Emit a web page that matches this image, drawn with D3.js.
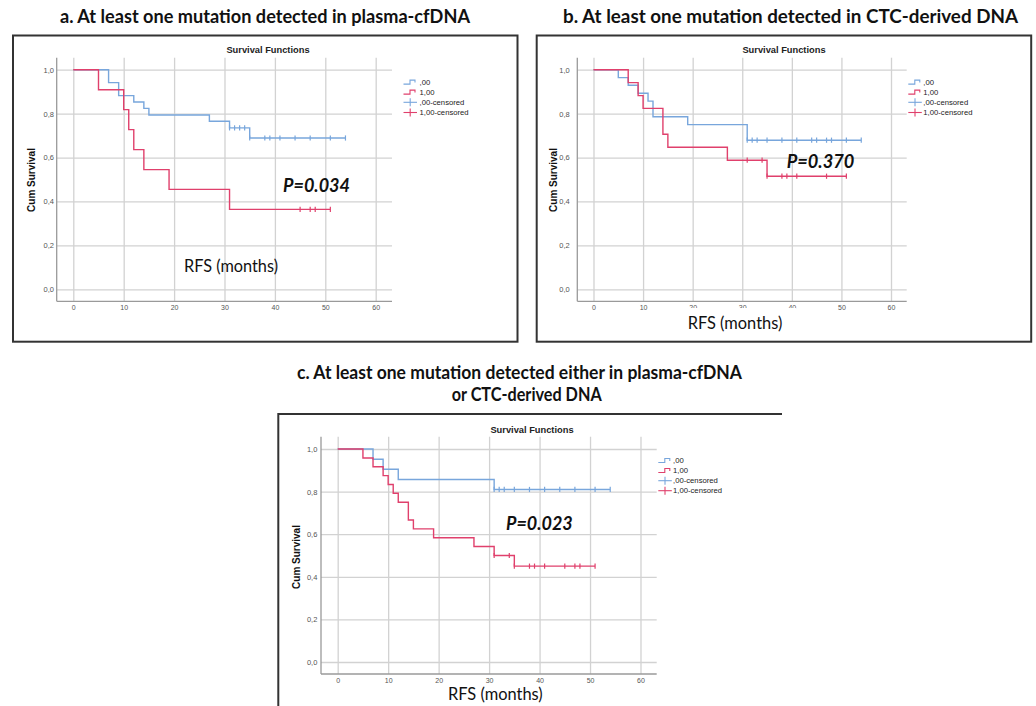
<!DOCTYPE html>
<html><head><meta charset="utf-8">
<script src="https://cdn.jsdelivr.net/npm/d3@7"></script>
<style>body{margin:0;background:#fff} svg{display:block}</style>
</head><body>
<svg id="chart" width="1036" height="706"></svg>
<script>
// ---------- data ----------
const xTicks = [0, 10, 20, 30, 40, 50, 60];
const yTicks = [0, 0.2, 0.4, 0.6, 0.8, 1.0];
const legendLabels = [",00", "1,00", ",00-censored", "1,00-censored"];
const plotTitle = "Survival Functions";
const yAxisTitle = "Cum Survival";
const xAxisTitle = "RFS (months)";

const titleA = ["a. At least one mutation detected in plasma-cfDNA"];
const titleB = ["b. At least one mutation detected in CTC-derived DNA"];
const titleC = ["c. At least one mutation detected either in plasma-cfDNA", "or CTC-derived DNA"];
const pValues = ["P=0.034", "P=0.370", "P=0.023"];

// panel a
const aBlueEventTimes = [7, 9, 12, 14, 15, 27, 31, 35];
const aBlueSurvival   = [0.941, 0.882, 0.853, 0.824, 0.794, 0.765, 0.735, 0.689];
const aBlueEnd = 54;
const aBlueCensored = [31, 32, 33, 34, 35, 38, 39, 41, 44, 47, 51, 54];
const aRedEventTimes = [5, 10, 11, 12, 14, 19, 31];
const aRedSurvival   = [0.909, 0.818, 0.727, 0.636, 0.545, 0.455, 0.364];
const aRedEnd = 51;
const aRedCensored = [45, 47, 48, 51];

// panel b
const bBlueEventTimes = [5, 7, 9, 11, 12, 19, 31];
const bBlueSurvival   = [0.964, 0.929, 0.893, 0.857, 0.786, 0.750, 0.679];
const bBlueEnd = 54;
const bBlueCensored = [31, 32, 33, 35, 38, 41, 44, 45, 47, 48, 51, 54];
const bRedEventTimes = [7, 9, 10, 14, 15, 27, 35];
const bRedSurvival   = [0.941, 0.882, 0.824, 0.706, 0.647, 0.588, 0.515];
const bRedEnd = 51;
const bRedCensored = [31, 34, 35, 38, 39, 41, 47, 51];

// panel c
const cBlueEventTimes = [7, 9, 12, 31];
const cBlueSurvival   = [0.952, 0.905, 0.857, 0.810];
const cBlueEnd = 54;
const cBlueCensored = [31, 32, 33, 35, 38, 41, 44, 47, 51, 54];
const cRedEventTimes = [5, 7, 9, 10, 11, 12, 14, 15, 19, 27, 31, 35];
const cRedSurvival   = [0.958, 0.917, 0.875, 0.833, 0.792, 0.750, 0.667, 0.625, 0.583, 0.542, 0.500, 0.450];
const cRedEnd = 51;
const cRedCensored = [31, 34, 35, 38, 39, 41, 45, 47, 48, 51];

// ---------- style ----------
const BLUE = "#78a6dc";
const RED = "#e0406c";
const GRID = "#d2d2d2";
const AXIS = "#9a9a9a";
const SANS = "'Liberation Sans', Arial, sans-serif";
const HUM = "Lato, 'Open Sans', sans-serif";

const svg = d3.select("#chart");
svg.append("rect").attr("width", 1036).attr("height", 706).attr("fill", "#fff");

function fmtComma(v) { return d3.format(".1f")(v).replace(".", ","); }

function stepPoints(times, surv, end) {
  const pts = [[0, 1]];
  let s = 1;
  times.forEach((t, i) => { pts.push([t, s]); s = surv[i]; pts.push([t, s]); });
  pts.push([end, s]);
  return pts;
}
function survAt(times, surv, t) {
  let s = 1;
  times.forEach((tt, i) => { if (tt <= t) s = surv[i]; });
  return s;
}

function drawPanel(L, series, pText) {
  const g = svg.append("g");
  const x = d3.scaleLinear().domain([0, 60]).range([L.x0, L.x1]);
  const y = d3.scaleLinear().domain([0, 1]).range([L.yBot, L.yTop]);

  // vertical grid + x tick labels
  const xa = g.append("g").attr("transform", `translate(0,${L.axisY})`)
    .call(d3.axisBottom(x).tickValues(xTicks).tickSize(-(L.axisY - L.plotTop)).tickPadding(L.xPad).tickFormat(d3.format("d")));
  xa.select(".domain").remove();
  xa.selectAll(".tick line").attr("stroke", GRID).attr("stroke-width", 1.3);
  xa.selectAll(".tick text").attr("fill", "#555").attr("font-size", 7).attr("font-family", SANS);

  // horizontal grid + y tick labels
  const ya = g.append("g").attr("transform", `translate(${L.axisX},0)`)
    .call(d3.axisLeft(y).tickValues(yTicks).tickSize(-(L.gridRight - L.axisX)).tickPadding(L.yPad).tickFormat(fmtComma));
  ya.select(".domain").remove();
  ya.selectAll(".tick line").attr("stroke", GRID).attr("stroke-width", 1.3);
  ya.selectAll(".tick text").attr("fill", "#555").attr("font-size", 7.5).attr("font-family", SANS);

  // axis lines
  g.append("line").attr("x1", L.axisX).attr("x2", L.axisX).attr("y1", L.plotTop).attr("y2", L.axisY)
    .attr("stroke", AXIS).attr("stroke-width", 1.3);
  g.append("line").attr("x1", L.axisX).attr("x2", L.gridRight).attr("y1", L.axisY).attr("y2", L.axisY)
    .attr("stroke", AXIS).attr("stroke-width", 1.3);

  // curves
  const line = d3.line().x(d => x(d[0])).y(d => y(d[1]));
  series.forEach(s => {
    g.append("path").attr("d", line(stepPoints(s.times, s.surv, s.end)))
      .attr("fill", "none").attr("stroke", s.color).attr("stroke-width", 1.4);
    g.selectAll(null).data(s.censored).enter().append("line")
      .attr("x1", d => x(d)).attr("x2", d => x(d))
      .attr("y1", d => y(survAt(s.times, s.surv, d)) - 2.6)
      .attr("y2", d => y(survAt(s.times, s.surv, d)) + 2.6)
      .attr("stroke", s.color).attr("stroke-width", 1.2);
  });

  // Survival Functions
  g.append("text").attr("x", L.sfX).attr("y", L.sfY).attr("text-anchor", "middle")
    .attr("font-family", SANS).attr("font-weight", "bold").attr("font-size", 9.3).attr("fill", "#222")
    .text(plotTitle);
  // Cum Survival
  g.append("text").attr("transform", `translate(${L.cumX},${L.cumY}) rotate(-90)`)
    .attr("text-anchor", "middle").attr("dominant-baseline", "central")
    .attr("font-family", SANS).attr("font-weight", "bold").attr("font-size", 10).attr("fill", "#111")
    .text(yAxisTitle);

  // legend
  const colors = [BLUE, RED, BLUE, RED];
  legendLabels.forEach((lab, i) => {
    const ly = L.legY[i], lx = L.legX;
    if (i < 2) {
      g.append("path").attr("d", `M${lx},${ly + 1.8}H${lx + 6.5}V${ly - 2.2}H${lx + 11.5}V${ly + 0.3}`)
        .attr("fill", "none").attr("stroke", colors[i]).attr("stroke-width", 1.1);
    } else {
      g.append("line").attr("x1", lx).attr("x2", lx + 13.5).attr("y1", ly).attr("y2", ly)
        .attr("stroke", colors[i]).attr("stroke-width", 1.1);
      g.append("line").attr("x1", lx + 6.7).attr("x2", lx + 6.7).attr("y1", ly - 4).attr("y2", ly + 4)
        .attr("stroke", colors[i]).attr("stroke-width", 1.1);
    }
    g.append("text").attr("x", L.legTextX).attr("y", ly).attr("dominant-baseline", "central")
      .attr("font-family", SANS).attr("font-size", 7.7).attr("fill", "#222").text(lab);
  });

  // RFS label
  if (L.rfsMask) {
    g.append("rect").attr("x", L.rfsX - 4).attr("y", L.rfsMaskY).attr("width", L.rfsW + 18).attr("height", 26).attr("fill", "#fff");
  }
  g.append("text").attr("x", L.rfsX).attr("y", L.rfsBase)
    .attr("font-family", HUM).attr("font-size", 16.5).attr("fill", "#111")
    .attr("textLength", L.rfsW).attr("lengthAdjust", "spacingAndGlyphs").text(xAxisTitle);

  // P value
  g.append("text").attr("x", L.pX).attr("y", L.pBase)
    .attr("font-family", HUM).attr("font-weight", "bold").attr("font-style", "italic").attr("font-size", 19.5).attr("fill", "#111")
    .attr("textLength", L.pW).attr("lengthAdjust", "spacingAndGlyphs").text(pText);
}

// ---------- layout ----------
const layoutA = { x0: 73.3, x1: 375.7, yTop: 69.7, yBot: 289.3, axisX: 56.7, axisY: 301.3, plotTop: 57.7, gridRight: 392,
  xPad: 4, yPad: 2.7, sfX: 268, sfY: 53.3, cumX: 31.7, cumY: 180, legX: 403.5, legTextX: 419.5,
  legY: [82.3, 92.3, 102.3, 112.5], pX: 283, pBase: 192.3, pW: 67, rfsX: 184, rfsBase: 271.7, rfsW: 94 };
const layoutB = { x0: 593.5, x1: 891, yTop: 69.7, yBot: 289.3, axisX: 577.3, axisY: 301.3, plotTop: 57.7, gridRight: 906.7,
  xPad: 4, yPad: 7.6, sfX: 784, sfY: 53.3, cumX: 553.3, cumY: 180, legX: 908.3, legTextX: 923.3,
  legY: [82.3, 92.3, 102.3, 112.5], pX: 786.7, pBase: 168.3, pW: 67.6, rfsX: 687.7, rfsBase: 329.3, rfsW: 94.6,
  rfsMask: true, rfsMaskY: 308 };
const layoutC = { x0: 337.7, x1: 640.5, yTop: 449, yBot: 662, axisX: 321, axisY: 674, plotTop: 436.7, gridRight: 656.7,
  xPad: 4.5, yPad: 3.7, sfX: 532, sfY: 433.3, cumX: 296.7, cumY: 557, legX: 658.3, legTextX: 673,
  legY: [460.7, 470.7, 480.7, 490.7], pX: 506, pBase: 530, pW: 66.7, rfsX: 448, rfsBase: 700, rfsW: 94.7 };

// frames
svg.append("rect").attr("x", 13).attr("y", 35.5).attr("width", 504.5).attr("height", 306.2)
  .attr("fill", "none").attr("stroke", "#333").attr("stroke-width", 2);
svg.append("rect").attr("x", 536.7).attr("y", 35.5).attr("width", 494.5).attr("height", 306.2)
  .attr("fill", "none").attr("stroke", "#333").attr("stroke-width", 2);
svg.append("path").attr("d", "M278.3,707V414H782").attr("fill", "none").attr("stroke", "#333").attr("stroke-width", 2);

drawPanel(layoutA, [
  { times: aBlueEventTimes, surv: aBlueSurvival, end: aBlueEnd, censored: aBlueCensored, color: BLUE },
  { times: aRedEventTimes, surv: aRedSurvival, end: aRedEnd, censored: aRedCensored, color: RED }], pValues[0]);
drawPanel(layoutB, [
  { times: bBlueEventTimes, surv: bBlueSurvival, end: bBlueEnd, censored: bBlueCensored, color: BLUE },
  { times: bRedEventTimes, surv: bRedSurvival, end: bRedEnd, censored: bRedCensored, color: RED }], pValues[1]);
drawPanel(layoutC, [
  { times: cBlueEventTimes, surv: cBlueSurvival, end: cBlueEnd, censored: cBlueCensored, color: BLUE },
  { times: cRedEventTimes, surv: cRedSurvival, end: cRedEnd, censored: cRedCensored, color: RED }], pValues[2]);

// panel titles
function title(lines, cx, baselines, widths) {
  lines.forEach((t, i) => {
    svg.append("text").attr("x", cx[i]).attr("y", baselines[i]).attr("text-anchor", "middle")
      .attr("font-family", HUM).attr("font-weight", "bold").attr("font-size", 18.5).attr("fill", "#111")
      .attr("textLength", widths[i]).attr("lengthAdjust", "spacingAndGlyphs").text(t);
  });
}
title(titleA, [265], [23], [410]);
title(titleB, [790.5], [23], [455]);
title(titleC, [519.5, 526.7], [379.3, 401], [445, 150]);
</script>
</body></html>
